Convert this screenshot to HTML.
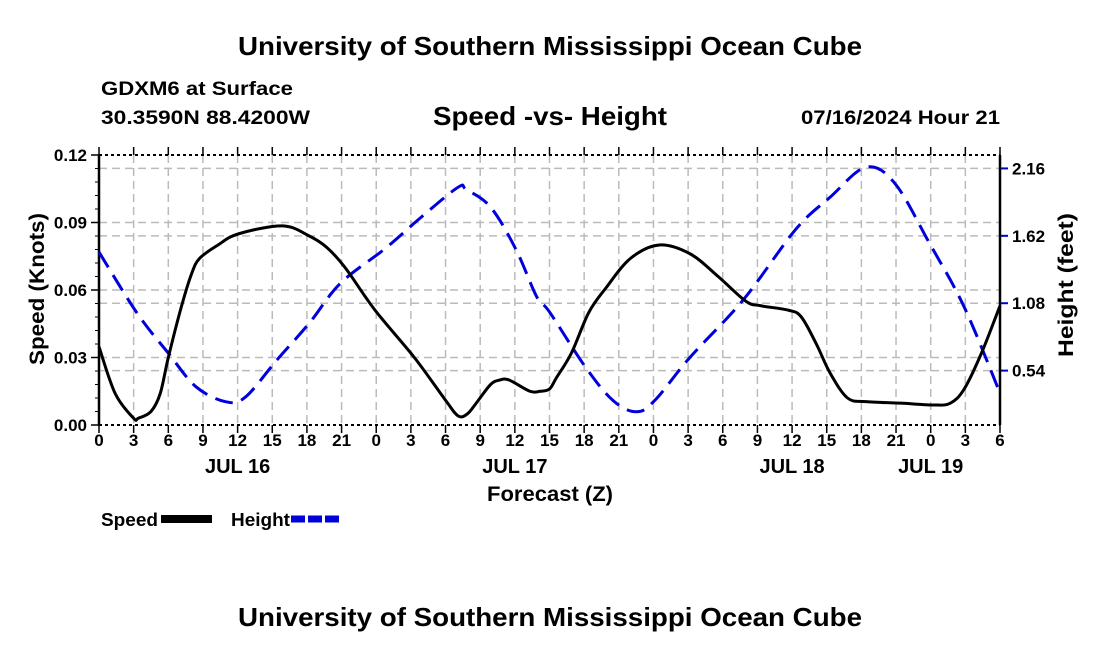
<!DOCTYPE html>
<html><head><meta charset="utf-8"><style>
body{margin:0;background:#fff;width:1100px;height:650px;overflow:hidden}
svg text{font-family:"Liberation Sans",sans-serif;font-weight:bold;fill:#000}
</style></head><body>
<svg id="c" width="1100" height="650">
<text x="238" y="55" font-size="26" textLength="624" lengthAdjust="spacingAndGlyphs">University of Southern Mississippi Ocean Cube</text>
<text x="101" y="95" font-size="19" textLength="192" lengthAdjust="spacingAndGlyphs">GDXM6 at Surface</text>
<text x="101" y="124" font-size="19" textLength="209" lengthAdjust="spacingAndGlyphs">30.3590N  88.4200W</text>
<text x="433" y="125" font-size="26" textLength="234" lengthAdjust="spacingAndGlyphs">Speed -vs- Height</text>
<text x="801" y="124" font-size="19" textLength="199" lengthAdjust="spacingAndGlyphs">07/16/2024 Hour 21</text>
<text x="238" y="626" font-size="26" textLength="624" lengthAdjust="spacingAndGlyphs">University of Southern Mississippi Ocean Cube</text>
<g id="g"></g>
</svg>
<script>
const speedHours=[0,1.4,3,3.4,4.5,5.3,6,7.1,8,8.7,10.3,12.1,15.9,18.2,19.7,21.3,23.9,27.3,30,31.1,31.9,32.7,33.9,34.7,35.5,37.3,38.2,39,39.6,40.9,42.4,43.9,46,48.5,51.2,53.6,56,57.3,59.7,60.8,62.1,63.3,64.8,66.4,69.4,72.2,73.7,74.9,76.4,78];
const speedValues=[0.0348,0.014,0.003,0.003,0.006,0.014,0.030,0.052,0.067,0.074,0.080,0.085,0.0885,0.084,0.079,0.070,0.051,0.030,0.011,0.004,0.005,0.010,0.018,0.020,0.020,0.015,0.015,0.016,0.021,0.032,0.050,0.061,0.074,0.080,0.076,0.066,0.055,0.053,0.051,0.048,0.036,0.023,0.012,0.0104,0.0097,0.0089,0.0097,0.016,0.032,0.053];
const heightHours=[0,3.3,6,8.4,11,12.7,15.4,18.2,20.9,24.8,27.9,31.1,31.8,33.9,36.1,37.9,39,42.1,44.5,46.5,48.1,51.2,55.8,60.3,63.3,66.4,68.9,71.9,74.9,78];
const heightValues=[1.49,1.00,0.68,0.41,0.29,0.33,0.625,0.92,1.24,1.52,1.77,2.01,1.99,1.85,1.51,1.13,1.01,0.57,0.30,0.21,0.30,0.65,1.11,1.67,1.93,2.17,2.04,1.56,1.05,0.36];
const xTickLabels=["0","3","6","9","12","15","18","21","0","3","6","9","12","15","18","21","0","3","6","9","12","15","18","21","0","3","6"];
const dayLabels=["JUL 16","JUL 17","JUL 18","JUL 19"];
const dayHours=[12,36,60,72];
const leftTicks=[0,0.03,0.06,0.09,0.12];
const rightTicks=[0.54,1.08,1.62,2.16];

const L=99,R=1000,T=155,B=425;
const x=h=>L+(R-L)*h/78;
const yL=v=>B-(B-T)*v/0.12;
const yR=v=>438-v*124.8;
const NS='http://www.w3.org/2000/svg';
const g=document.getElementById('g');
function mk(tag,attrs,parent){const e=document.createElementNS(NS,tag);for(const k in attrs)e.setAttribute(k,attrs[k]);(parent||g).appendChild(e);return e;}
function path(xs,ys){let p=[];for(let i=0;i<xs.length;i++)p.push([xs[i],ys[i]]);
 let d='M'+p[0][0]+','+p[0][1];
 for(let i=0;i<p.length-1;i++){const p0=p[Math.max(0,i-1)],p1=p[i],p2=p[i+1],p3=p[Math.min(p.length-1,i+2)];
  d+=' C'+(p1[0]+(p2[0]-p0[0])/6)+','+(p1[1]+(p2[1]-p0[1])/6)+' '+(p2[0]-(p3[0]-p1[0])/6)+','+(p2[1]-(p3[1]-p1[1])/6)+' '+p2[0]+','+p2[1];}
 return d;}
xTickLabels.forEach((t,i)=>{const xx=x(i*3);
 if(i>0&&i<xTickLabels.length-1){const l=mk('line',{x1:xx,x2:xx,y1:T,y2:B,stroke:'#bbb','stroke-width':1.5,'stroke-dasharray':'8,5'});
 
 }
 const tk=mk('line',{x1:xx,x2:xx,y1:B,y2:B+8,stroke:'#000','stroke-width':1.5});
 
 
 const tk2=mk('line',{x1:xx,x2:xx,y1:T,y2:T-8,stroke:'#000','stroke-width':1.5});
 
 
 const tx=mk('text',{x:xx,y:B+21,'font-size':17,'text-anchor':'middle'});tx.textContent=t;
 
 });
dayLabels.forEach((t,i)=>{const tx=mk('text',{x:x(dayHours[i]),y:B+48,'font-size':20,'text-anchor':'middle'});tx.textContent=t;
 
 });
leftTicks.forEach(v=>{const yy=yL(v);
 if(v>0&&v<0.12){const l=mk('line',{x1:L,x2:R,y1:yy,y2:yy,stroke:'#bbb','stroke-width':1.5,'stroke-dasharray':'8,5'});
 
 }
 const tk=mk('line',{x1:L-8,x2:L,y1:yy,y2:yy,stroke:'#000','stroke-width':1.5});
 
 
 const tx=mk('text',{x:L-12,y:yy+6,'font-size':17,'text-anchor':'end'});tx.textContent=v.toFixed(2);
 
 });
for(let v=0.006;v<0.12;v+=0.006){const tk=mk('line',{x1:L-4,x2:L,y1:yL(v),y2:yL(v),stroke:'#000','stroke-width':1});
 
 }
rightTicks.forEach(v=>{const yy=yR(v);
 const l=mk('line',{x1:L,x2:R,y1:yy,y2:yy,stroke:'#bbb','stroke-width':1.5,'stroke-dasharray':'8,5'});
 
 
 const tk=mk('line',{x1:R,x2:R+8,y1:yy,y2:yy,stroke:'#00c','stroke-width':2});
 
 
 const tx=mk('text',{x:R+12,y:yy+6,'font-size':17});tx.textContent=v.toFixed(2);
 
 });
[[L,T,R,T],[L,B,R,B]].forEach(a=>{const l=mk('line',{x1:a[0],y1:a[1],x2:a[2],y2:a[3],stroke:'#000','stroke-width':2,'stroke-dasharray':'3,3'});
 
 });
[[L,T,L,B],[R,T,R,B]].forEach(a=>{const l=mk('line',{x1:a[0],y1:a[1],x2:a[2],y2:a[3],stroke:'#000','stroke-width':2.5});
 
 });
const hp=mk('path',{d:path(heightHours.map(x),heightValues.map(yR)),fill:'none',stroke:'#0000dd','stroke-width':3,'stroke-dasharray':'18,9'});


const sp=mk('path',{d:path(speedHours.map(x),speedValues.map(yL)),fill:'none',stroke:'#000','stroke-width':3});


const at1=mk('text',{x:0,y:0,'font-size':21,'text-anchor':'middle',textLength:152,lengthAdjust:'spacingAndGlyphs',transform:'translate(44,289) rotate(-90)'});at1.textContent='Speed (Knots)';


const at2=mk('text',{x:0,y:0,'font-size':21,'text-anchor':'middle',textLength:144,lengthAdjust:'spacingAndGlyphs',transform:'translate(1073,285) rotate(-90)'});at2.textContent='Height (feet)';


const xt=mk('text',{x:487,y:501,'font-size':21,textLength:126,lengthAdjust:'spacingAndGlyphs'});xt.textContent='Forecast (Z)';


const l1=mk('text',{x:101,y:526,'font-size':18,textLength:57,lengthAdjust:'spacingAndGlyphs'});l1.textContent='Speed';


const s1=mk('rect',{x:161,y:515,width:51,height:8,fill:'#000'});


const l2=mk('text',{x:231,y:526,'font-size':18,textLength:59,lengthAdjust:'spacingAndGlyphs'});l2.textContent='Height';


const s2=mk('line',{x1:291,x2:342,y1:519,y2:519,stroke:'#0000dd','stroke-width':7,'stroke-dasharray':'14,3'});


</script>
</body></html>
